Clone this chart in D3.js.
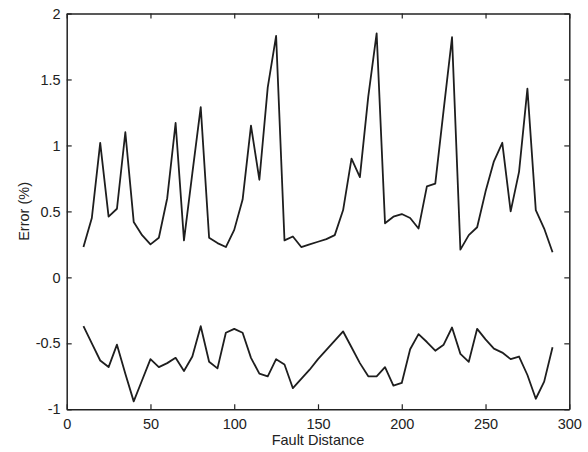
<!DOCTYPE html>
<html>
<head>
<meta charset="utf-8">
<script src="https://cdn.jsdelivr.net/npm/d3@7"></script>
<style>
  html, body { margin: 0; padding: 0; background: #ffffff; }
  svg { display: block; }
  text { font-family: "Liberation Sans", Arial, sans-serif; fill: #222; }
</style>
</head>
<body>
<svg id="chart" width="588" height="452"></svg>
<script>
// Fault distance positions
const distances = [10,15,20,25,30,35,40,45,50,55,60,65,70,75,80,85,90,95,100,105,110,115,120,125,130,135,140,145,150,155,160,165,170,175,180,185,190,195,200,205,210,215,220,225,230,235,240,245,250,255,260,265,270,275,280,285,290];

// Upper (positive) error series, %
const upperError = [0.23,0.45,1.02,0.46,0.52,1.10,0.42,0.32,0.25,0.30,0.60,1.17,0.28,0.79,1.29,0.30,0.26,0.23,0.36,0.59,1.15,0.74,1.44,1.83,0.28,0.31,0.23,0.25,0.27,0.29,0.32,0.51,0.90,0.76,1.37,1.85,0.41,0.46,0.48,0.45,0.37,0.69,0.71,1.27,1.82,0.21,0.32,0.38,0.65,0.88,1.02,0.50,0.80,1.43,0.51,0.37,0.19];

// Lower (negative) error series, %
const lowerError = [-0.37,-0.50,-0.63,-0.68,-0.51,-0.73,-0.94,-0.78,-0.62,-0.68,-0.65,-0.61,-0.71,-0.60,-0.37,-0.64,-0.69,-0.42,-0.39,-0.42,-0.61,-0.73,-0.75,-0.62,-0.66,-0.84,-0.77,-0.70,-0.62,-0.55,-0.48,-0.41,-0.53,-0.65,-0.75,-0.75,-0.68,-0.82,-0.80,-0.545,-0.43,-0.49,-0.556,-0.51,-0.38,-0.58,-0.64,-0.39,-0.47,-0.54,-0.57,-0.62,-0.60,-0.74,-0.92,-0.79,-0.53];

const xTicks = [0,50,100,150,200,250,300];
const yTicks = [-1,-0.5,0,0.5,1,1.5,2];
const xLabel = "Fault Distance";
const yLabel = "Error (%)";

(function () {
  const svg = d3.select("#chart");
  const mLeft = 66.7, mRight = 569.3, mTop = 13.5, mBottom = 409.3;

  const x = d3.scaleLinear().domain([0, 300]).range([mLeft, mRight]);
  const y = d3.scaleLinear().domain([-1, 2]).range([mBottom, mTop]);

  const axisColor = "#222";
  const fontSize = 14.5;

  // Axes (ticks inward, MATLAB style)
  const gB = svg.append("g").attr("transform", `translate(0,${mBottom})`)
    .call(d3.axisBottom(x).tickValues(xTicks).tickFormat(d3.format("d")).tickSizeInner(-5).tickSizeOuter(0).tickPadding(9));
  const gT = svg.append("g").attr("transform", `translate(0,${mTop})`)
    .call(d3.axisTop(x).tickValues(xTicks).tickFormat("").tickSizeInner(-5).tickSizeOuter(0));
  const gL = svg.append("g").attr("transform", `translate(${mLeft},0)`)
    .call(d3.axisLeft(y).tickValues(yTicks).tickFormat(d => String(d)).tickSizeInner(-5).tickSizeOuter(0).tickPadding(6));
  const gR = svg.append("g").attr("transform", `translate(${mRight},0)`)
    .call(d3.axisRight(y).tickValues(yTicks).tickFormat("").tickSizeInner(-5).tickSizeOuter(0));

  [gB, gT, gL, gR].forEach(g => {
    g.select(".domain").attr("stroke", axisColor).attr("stroke-width", 1.5);
    g.selectAll(".tick line").attr("stroke", axisColor).attr("stroke-width", 1.2);
    g.selectAll(".tick text").attr("font-size", fontSize).attr("fill", "#222")
      .attr("font-family", "Liberation Sans, Arial, sans-serif");
  });

  // Series lines
  const line = d3.line().x((d, i) => x(distances[i])).y(d => y(d));
  [upperError, lowerError].forEach(series => {
    svg.append("path")
      .datum(series)
      .attr("fill", "none")
      .attr("stroke", "#1e1e1e")
      .attr("stroke-width", 1.8)
      .attr("stroke-linejoin", "round")
      .attr("d", line);
  });

  // Axis labels
  svg.append("text")
    .attr("x", (mLeft + mRight) / 2)
    .attr("y", 445)
    .attr("text-anchor", "middle")
    .attr("font-size", fontSize)
    .text(xLabel);

  svg.append("text")
    .attr("transform", `translate(29,${(mTop + mBottom) / 2}) rotate(-90)`)
    .attr("text-anchor", "middle")
    .attr("font-size", 14.5)
    .text(yLabel);
})();
</script>
</body>
</html>
